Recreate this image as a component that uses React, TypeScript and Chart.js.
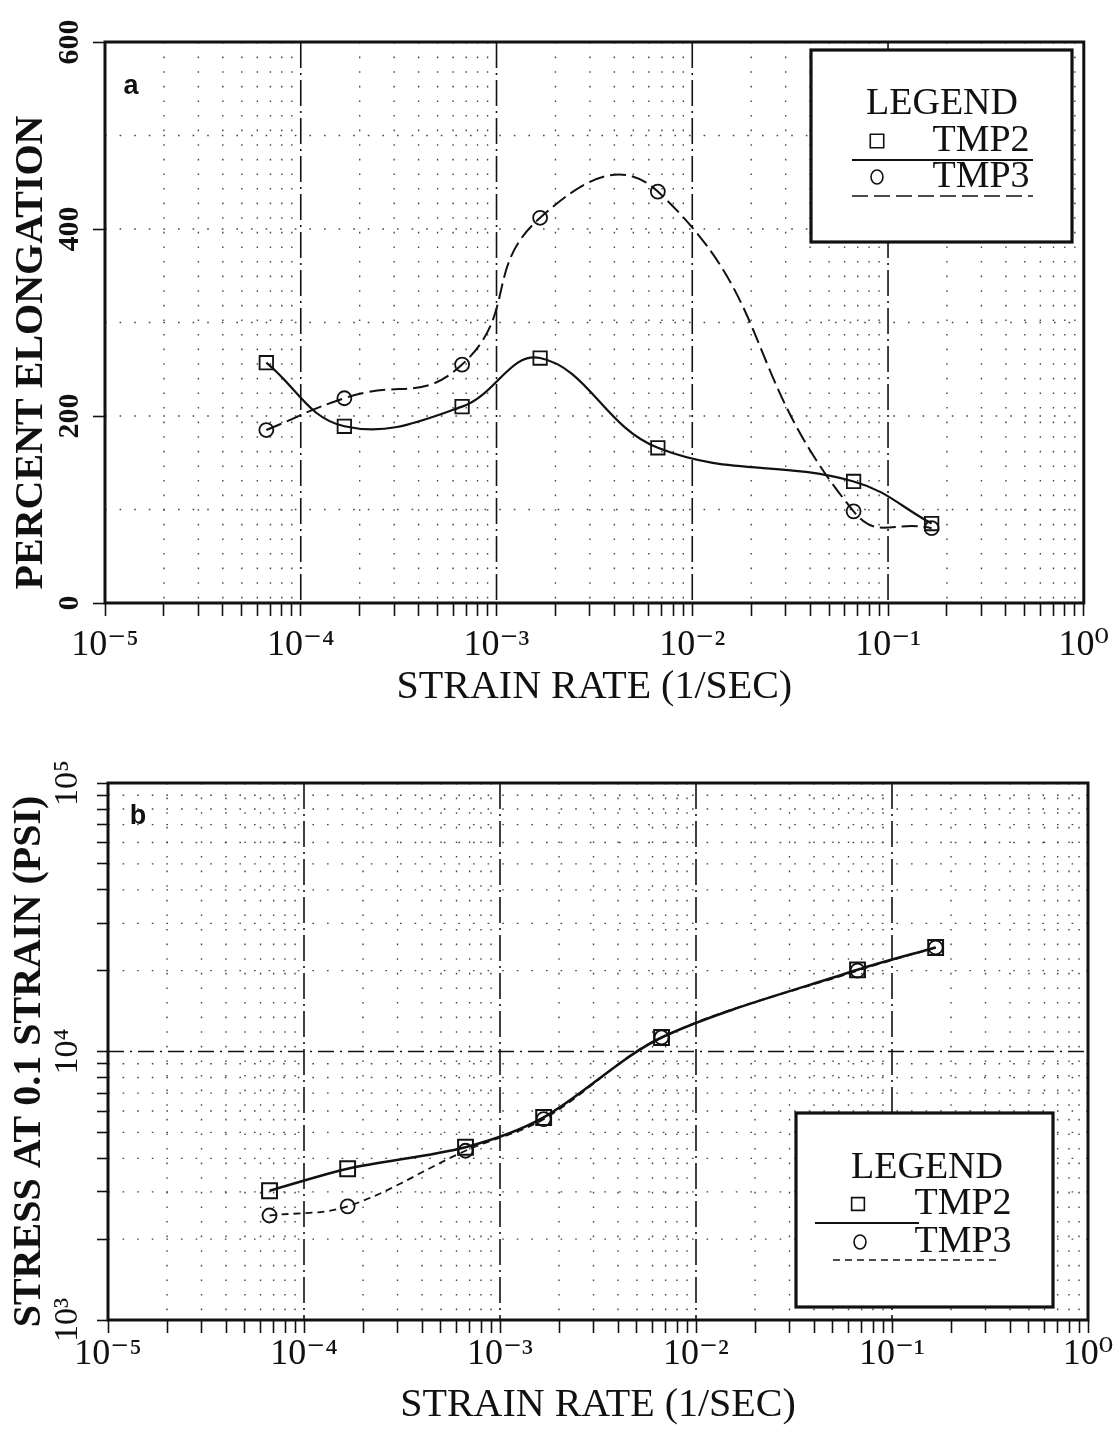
import React, { useEffect, useRef } from 'react';
import { Chart, registerables } from 'chart.js';

Chart.register(...registerables);

// ---------------- data ----------------
const strainRates = [6.67e-5, 1.67e-4, 6.67e-4, 1.67e-3, 6.67e-3, 6.67e-2, 1.67e-1];
const elongationTMP2 = [257, 189, 210, 262, 166, 130, 85];
const elongationTMP3 = [185, 219, 255, 412, 440, 98, 80];
const stressTMP2 = [3030, 3660, 4400, 5680, 11280, 20150, 24400];
const stressTMP3 = [2450, 2650, 4270, 5600, 11280, 20000, 24400];
const seriesNames = ['TMP2', 'TMP3'];

const strainExponents = [-5, -4, -3, -2, -1, 0];
const strainTickLabels = ['10⁻⁵', '10⁻⁴', '10⁻³', '10⁻²', '10⁻¹', '10⁰'];
const elongationTicks = [0, 200, 400, 600];
const elongationGrid = [100, 200, 300, 400, 500];
const stressExponents = [3, 4, 5];
const stressTickLabels = ['10³', '10⁴', '10⁵'];
const mantissas = [1, 2, 3, 4, 5, 6, 7, 8, 9];

// ---------------- helpers ----------------
const clean = (v: number) => Number(v.toPrecision(12));
const logTickValues = (exps: number[]) => {
  const out: number[] = [];
  for (let i = 0; i < exps.length - 1; i++) {
    for (const m of mantissas) out.push(clean(m * Math.pow(10, exps[i])));
  }
  out.push(clean(Math.pow(10, exps[exps.length - 1])));
  return out;
};
const isDecade = (v: number) => {
  const e = Math.log10(v);
  return Math.abs(e - Math.round(e)) < 1e-6;
};
const decadeLabel = (v: number, exps: number[], labels: string[]) => {
  if (!isDecade(v)) return '';
  const idx = exps.indexOf(Math.round(Math.log10(v)));
  return idx >= 0 ? labels[idx] : '';
};

const strainTicks = logTickValues(strainExponents);
const strainMinor = strainTicks.filter((v) => !isDecade(v));
const strainMajor = strainTicks.filter((v) => isDecade(v)).slice(1, -1);
const stressTicks = logTickValues(stressExponents);
const stressMinor = stressTicks.filter((v) => !isDecade(v));
const stressMajor = stressTicks.filter((v) => isDecade(v)).slice(1, -1);

const SERIF = '"Liberation Serif", "DejaVu Serif", serif';
const INK = '#111';

// ---------------- plugin: grid, frame, panel letter, legend ----------------
const paperPlugin = {
  id: 'paper',
  beforeDatasetsDraw(chart: any, _args: any, opts: any) {
    const { ctx, chartArea: a, scales } = chart;
    const sx = scales.x;
    const sy = scales.y;
    ctx.save();
    ctx.beginPath();
    ctx.rect(a.left, a.top, a.right - a.left, a.bottom - a.top);
    ctx.clip();
    const seg = (x1: number, y1: number, x2: number, y2: number, dash: number[], w: number, c: string) => {
      ctx.beginPath();
      ctx.setLineDash(dash);
      ctx.lineWidth = w;
      ctx.strokeStyle = c;
      ctx.moveTo(x1, y1);
      ctx.lineTo(x2, y2);
      ctx.stroke();
    };
    for (const v of opts.xMinor) {
      const p = sx.getPixelForValue(v);
      seg(p, a.top, p, a.bottom, [1.6, 13], 1.4, '#444');
    }
    for (const v of opts.yMinor) {
      const p = sy.getPixelForValue(v);
      seg(a.left, p, a.right, p, [1.6, 13], 1.4, '#444');
    }
    for (const v of opts.xMajor) {
      const p = sx.getPixelForValue(v);
      seg(p, a.top, p, a.bottom, [26, 5, 2, 5], 1.6, INK);
    }
    for (const v of opts.yMajor) {
      const p = sy.getPixelForValue(v);
      seg(a.left, p, a.right, p, [16, 6, 2, 6], 1.6, INK);
    }
    ctx.restore();
  },
  afterDraw(chart: any, _args: any, opts: any) {
    const { ctx, chartArea: a } = chart;
    ctx.save();
    ctx.setLineDash([]);
    ctx.strokeStyle = INK;
    ctx.lineWidth = 3;
    ctx.strokeRect(a.left, a.top, a.right - a.left, a.bottom - a.top);

    // panel letter
    ctx.fillStyle = INK;
    ctx.font = 'bold 27px "Liberation Sans", Arial, sans-serif';
    ctx.textAlign = 'center';
    ctx.textBaseline = 'middle';
    ctx.fillText(opts.panel.text, opts.panel.x, opts.panel.y);

    // legend box
    const L = opts.legend;
    const [bx1, by1, bx2, by2] = L.box;
    ctx.fillStyle = '#fff';
    ctx.fillRect(bx1, by1, bx2 - bx1, by2 - by1);
    ctx.lineWidth = 3.2;
    ctx.strokeStyle = INK;
    ctx.strokeRect(bx1, by1, bx2 - bx1, by2 - by1);
    ctx.fillStyle = INK;
    ctx.font = `${L.fontSize}px ${SERIF}`;
    ctx.textAlign = 'center';
    ctx.textBaseline = 'middle';
    ctx.fillText('LEGEND', L.titleX, L.titleY);
    chart.data.datasets.forEach((ds: any, i: number) => {
      const e = L.entries[i];
      ctx.fillStyle = INK;
      ctx.textAlign = 'center';
      ctx.fillText(ds.label, e.textX, e.y);
      // marker
      ctx.setLineDash([]);
      ctx.lineWidth = 1.6;
      ctx.strokeStyle = INK;
      const r = L.markerRadius[i];
      ctx.beginPath();
      if (ds.pointStyle === 'rect') {
        const s = r / Math.SQRT2;
        ctx.rect(e.markerX - s, e.y - s, 2 * s, 2 * s);
      } else {
        ctx.ellipse(e.markerX, e.y, r * 0.85, r, 0, 0, Math.PI * 2);
      }
      ctx.stroke();
      // line sample
      ctx.beginPath();
      ctx.setLineDash(ds.borderDash || []);
      ctx.lineWidth = Math.max(1.5, ds.borderWidth - 0.4);
      ctx.moveTo(e.lineX1, e.lineY);
      ctx.lineTo(e.lineX2, e.lineY);
      ctx.stroke();
    });
    ctx.restore();
  },
};

// ---------------- chart configs ----------------
const makeDataset = (label: string, ys: number[], style: any) => ({
  label,
  data: strainRates.map((x, i) => ({ x, y: ys[i] })),
  borderColor: INK,
  pointBorderColor: INK,
  pointBackgroundColor: 'rgba(0,0,0,0)',
  fill: false,
  ...style,
});

const xAxis = (height: number, tickPad: number, titlePad: number) => ({
  type: 'logarithmic',
  min: 1e-5,
  max: 1,
  afterBuildTicks: (s: any) => {
    s.ticks = strainTicks.map((v) => ({ value: v, major: isDecade(v) }));
  },
  afterFit: (s: any) => {
    s.height = height;
  },
  border: { display: false },
  grid: { drawOnChartArea: false, drawTicks: true, tickLength: 13, tickWidth: 1.6, tickColor: INK },
  ticks: {
    autoSkip: false,
    maxRotation: 0,
    minRotation: 0,
    padding: tickPad,
    color: INK,
    font: { family: SERIF, size: 36 },
    callback: (v: any) => decadeLabel(Number(v), strainExponents, strainTickLabels),
  },
  title: {
    display: true,
    text: 'STRAIN RATE (1/SEC)',
    color: INK,
    font: { family: SERIF, size: 40 },
    padding: { top: 0, bottom: titlePad },
  },
});

const configA = () => ({
  type: 'line',
  data: {
    datasets: [
      makeDataset(seriesNames[0], elongationTMP2, {
        borderWidth: 2.2,
        borderDash: [],
        pointStyle: 'rect',
        pointRadius: 9.5,
        pointBorderWidth: 1.8,
        tension: 0.4,
      }),
      makeDataset(seriesNames[1], elongationTMP3, {
        borderWidth: 2,
        borderDash: [16, 6],
        pointStyle: 'circle',
        pointRadius: 7,
        pointBorderWidth: 1.8,
        tension: 0.5,
      }),
    ],
  },
  options: {
    responsive: false,
    maintainAspectRatio: false,
    animation: false,
    devicePixelRatio: 1,
    layout: { padding: { top: 42, right: 31, left: 0, bottom: 0 } },
    plugins: {
      legend: { display: false },
      tooltip: { enabled: false },
      paper: {
        xMinor: strainMinor,
        xMajor: strainMajor,
        yMinor: elongationGrid,
        yMajor: [],
        panel: { text: 'a', x: 131, y: 87 },
        legend: {
          box: [811, 50, 1072, 242],
          fontSize: 38,
          titleX: 942,
          titleY: 104,
          markerRadius: [9.5, 7],
          entries: [
            { markerX: 877, textX: 981, y: 141, lineX1: 852, lineX2: 1033, lineY: 160 },
            { markerX: 877, textX: 981, y: 177, lineX1: 852, lineX2: 1033, lineY: 196 },
          ],
        },
      },
    },
    scales: {
      x: xAxis(112, 8, 4),
      y: {
        type: 'linear',
        min: 0,
        max: 600,
        afterBuildTicks: (s: any) => {
          s.ticks = elongationTicks.map((v) => ({ value: v }));
        },
        afterFit: (s: any) => {
          s.width = 105;
        },
        border: { display: false },
        grid: { drawOnChartArea: false, drawTicks: true, tickLength: 12, tickWidth: 1.6, tickColor: INK },
        ticks: {
          minRotation: 90,
          maxRotation: 90,
          crossAlign: 'center',
          padding: 0,
          color: INK,
          font: { family: SERIF, size: 30, weight: 'bold' },
        },
        title: {
          display: true,
          text: 'PERCENT ELONGATION      ',
          color: INK,
          font: { family: SERIF, size: 40, weight: 'bold' },
          padding: { top: 8, bottom: 0 },
        },
      },
    },
  },
  plugins: [paperPlugin],
});

const configB = () => ({
  type: 'line',
  data: {
    datasets: [
      makeDataset(seriesNames[0], stressTMP2, {
        borderWidth: 2.6,
        borderDash: [],
        pointStyle: 'rect',
        pointRadius: 10.5,
        pointBorderWidth: 2,
        tension: 0.3,
      }),
      makeDataset(seriesNames[1], stressTMP3, {
        borderWidth: 1.8,
        borderDash: [7, 5],
        pointStyle: 'circle',
        pointRadius: 7,
        pointBorderWidth: 1.8,
        tension: 0.35,
      }),
    ],
  },
  options: {
    responsive: false,
    maintainAspectRatio: false,
    animation: false,
    devicePixelRatio: 1,
    layout: { padding: { top: 68, right: 29, left: 0, bottom: 0 } },
    plugins: {
      legend: { display: false },
      tooltip: { enabled: false },
      paper: {
        xMinor: strainMinor,
        xMajor: strainMajor,
        yMinor: stressMinor,
        yMajor: stressMajor,
        panel: { text: 'b', x: 138, y: 102 },
        legend: {
          box: [796, 398, 1053, 592],
          fontSize: 38,
          titleX: 927,
          titleY: 453,
          markerRadius: [9, 7],
          entries: [
            { markerX: 858, textX: 963, y: 489, lineX1: 815, lineX2: 919, lineY: 508 },
            { markerX: 860, textX: 963, y: 527, lineX1: 833, lineX2: 997, lineY: 545 },
          ],
        },
      },
    },
    scales: {
      x: xAxis(115, 0, 6),
      y: {
        type: 'logarithmic',
        min: 1000,
        max: 100000,
        afterBuildTicks: (s: any) => {
          s.ticks = stressTicks.map((v) => ({ value: v, major: isDecade(v) }));
        },
        afterFit: (s: any) => {
          s.width = 108;
        },
        border: { display: false },
        grid: { drawOnChartArea: false, drawTicks: true, tickLength: 11, tickWidth: 1.6, tickColor: INK },
        ticks: {
          autoSkip: false,
          minRotation: 90,
          maxRotation: 90,
          crossAlign: 'center',
          padding: 6,
          color: INK,
          font: { family: SERIF, size: 34 },
          callback: (v: any) => decadeLabel(Number(v), stressExponents, stressTickLabels),
        },
        title: {
          display: true,
          text: 'STRESS AT 0.1 STRAIN (PSI)  ',
          color: INK,
          font: { family: SERIF, size: 40, weight: 'bold' },
          padding: { top: 6, bottom: 0 },
        },
      },
    },
  },
  plugins: [paperPlugin],
});

// ---------------- components ----------------
function PanelChart({ make, width, height }: { make: () => any; width: number; height: number }) {
  const ref = useRef<HTMLCanvasElement>(null);
  useEffect(() => {
    if (!ref.current) return;
    const chart = new Chart(ref.current, make());
    return () => chart.destroy();
  }, [make]);
  return <canvas ref={ref} width={width} height={height} style={{ display: 'block', width, height }} />;
}

export default function App() {
  return (
    <div style={{ position: 'absolute', left: 0, top: 0, width: 1117, height: 1435, background: '#fff' }}>
      <PanelChart make={configA} width={1117} height={715} />
      <PanelChart make={configB} width={1117} height={720} />
    </div>
  );
}
